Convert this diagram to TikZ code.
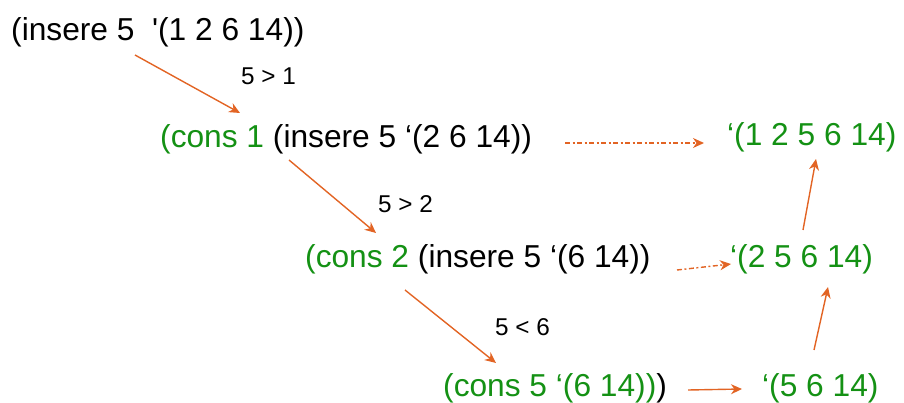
\documentclass[tikz,border=0pt]{standalone}
\usepackage{fontspec}
\setmainfont{Liberation Sans}
\newfontfamily\nomap{Liberation Sans}
\usetikzlibrary{arrows.meta}
\definecolor{arr}{RGB}{226,100,36}
\definecolor{grn}{RGB}{20,145,20}
\begin{document}
\begin{tikzpicture}[x=1pt,y=-1pt,
 big/.style={anchor=base west, inner sep=0pt, font=\fontsize{31.7}{36}\selectfont},
 small/.style={anchor=base west, inner sep=0pt, font=\fontsize{24.3}{28}\selectfont},
 conn/.style={draw=arr, line width=1.4pt, -{Stealth[length=11pt,width=10pt,inset=3.5pt]}},
 dconn/.style={conn, dash pattern=on 5pt off 2.5pt on 2pt off 2.5pt}]
\useasboundingbox (0,0) rectangle (904,403);
\node[big] (l1) at (11,41) {(insere 5\ \ {\nomap '}(1 2 6 14))};
\node[big] (l2) at (160,148) {{\color{grn}(cons 1} (insere 5 ‘(2 6 14))};
\node[big] (l3) at (305,267) {{\color{grn}(cons 2} (insere 5 ‘(6 14))};
\node[big] (l4) at (443,396) {{\color{grn}(cons 5 ‘(6 14))})};
\node[big, text=grn] (r1) at (727,146) {‘(1 2 5 6 14)};
\node[big, text=grn] (r2) at (730,267) {‘(2 5 6 14)};
\node[big, text=grn] (r3) at (762,396) {‘(5 6 14)};
\node[small] (c1) at (241,85) {5 > 1};
\node[small] (c2) at (378,213) {5 > 2};
\node[small] (c3) at (495,335) {5 < 6};
\coordinate (a1s) at (135,55); \coordinate (a1e) at (240,113);
\coordinate (a2s) at (289,160); \coordinate (a2e) at (376,233);
\coordinate (a3s) at (405,290); \coordinate (a3e) at (496,363);
\coordinate (d1s) at (565,143); \coordinate (d1e) at (704,143);
\coordinate (d2s) at (677,270); \coordinate (d2e) at (731,264);
\coordinate (b1s) at (688,390); \coordinate (b1e) at (742,389);
\coordinate (u1s) at (814,350); \coordinate (u1e) at (828,287);
\coordinate (u2s) at (803,230); \coordinate (u2e) at (816,159);
\draw[conn] (a1s) -- (a1e);
\draw[conn] (a2s) -- (a2e);
\draw[conn] (a3s) -- (a3e);
\draw[dconn] (d1s) -- (d1e);
\draw[dconn] (d2s) -- (d2e);
\draw[conn] (b1s) -- (b1e);
\draw[conn] (u1s) -- (u1e);
\draw[conn] (u2s) -- (u2e);
\end{tikzpicture}
\end{document}
